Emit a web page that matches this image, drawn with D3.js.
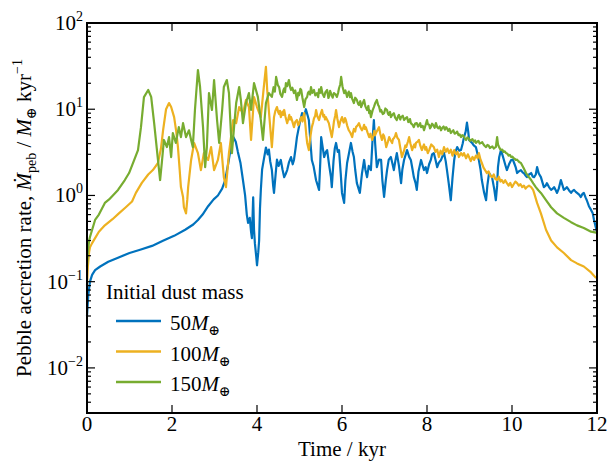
<!DOCTYPE html>
<html>
<head>
<meta charset="utf-8">
<script src="https://cdn.jsdelivr.net/npm/d3@7"></script>
<style>
  body { margin: 0; background: #fff; }
  svg { font-family: "Liberation Serif", "DejaVu Serif", serif; }
</style>
</head>
<body>
<svg id="chart" width="609" height="461"></svg>
<script>

// time in kyr, rate in M_earth / kyr
var blue50 = [[0,0.04],[0.03,0.07],[0.07,0.1],[0.12,0.12],[0.19,0.136],[0.31,0.15],[0.5,0.17],[0.73,0.19],[1.0,0.215],[1.25,0.235],[1.53,0.26],[1.8,0.3],[2.05,0.34],[2.31,0.4],[2.5,0.46],[2.61,0.52],[2.72,0.6],[2.85,0.75],[2.98,0.9],[3.08,1.0],[3.18,1.2],[3.25,1.5],[3.32,2.3],[3.38,3.5],[3.44,4.8],[3.5,4.2],[3.55,3.2],[3.61,2.4],[3.67,1.5],[3.72,1.0],[3.76,0.6],[3.79,0.48],[3.83,0.55],[3.86,0.38],[3.88,0.32],[3.91,0.95],[3.93,0.4],[3.95,0.28],[3.98,0.2],[4.0,0.155],[4.03,0.22],[4.05,0.3],[4.07,0.7],[4.09,1.15],[4.12,2.0],[4.16,2.6],[4.21,3.6],[4.25,3.0],[4.28,3.4],[4.31,2.5],[4.35,1.97],[4.38,1.3],[4.4,1.07],[4.44,1.8],[4.47,2.6],[4.51,2.2],[4.56,2.58],[4.6,2.0],[4.64,1.63],[4.68,1.8],[4.71,1.97],[4.75,2.4],[4.8,2.79],[4.84,2.3],[4.87,2.58],[4.91,3.6],[4.94,4.75],[4.98,6.0],[5.02,7.5],[5.06,9.0],[5.1,8.0],[5.15,10],[5.19,8.5],[5.22,7.5],[5.26,4.0],[5.29,2.58],[5.33,2.2],[5.36,1.82],[5.39,1.5],[5.43,1.3],[5.46,1.16],[5.49,2.5],[5.51,4.75],[5.55,3.5],[5.58,2.79],[5.62,3.2],[5.65,3.36],[5.7,2.2],[5.74,1.63],[5.76,1.25],[5.8,2.5],[5.83,3.5],[5.86,4.06],[5.9,3.2],[5.93,3.36],[5.97,1.8],[6.0,1.07],[6.05,0.82],[6.08,1.5],[6.12,2.38],[6.16,3.0],[6.21,4.06],[6.25,3.2],[6.28,2.79],[6.31,2.0],[6.35,1.39],[6.42,1.07],[6.47,1.8],[6.52,2.58],[6.55,2.0],[6.59,1.63],[6.63,2.2],[6.68,1.97],[6.72,4.5],[6.75,7.5],[6.78,4.0],[6.82,2.13],[6.87,2.6],[6.92,2.58],[6.95,1.5],[6.99,0.96],[7.03,1.5],[7.06,1.97],[7.1,2.6],[7.15,2.79],[7.19,2.3],[7.22,1.97],[7.26,2.6],[7.29,3.1],[7.34,2.2],[7.39,1.39],[7.42,2.0],[7.46,2.58],[7.5,3.0],[7.53,3.36],[7.58,2.8],[7.62,2.58],[7.66,2.0],[7.69,1.63],[7.73,1.4],[7.76,1.16],[7.8,1.9],[7.86,2.58],[7.9,2.2],[7.93,1.97],[7.97,2.13],[8.0,1.82],[8.05,2.3],[8.09,2.58],[8.12,3.0],[8.16,3.1],[8.2,2.6],[8.24,2.13],[8.28,2.4],[8.33,2.58],[8.37,2.9],[8.4,3.1],[8.44,2.5],[8.47,1.97],[8.51,1.4],[8.56,0.88],[8.6,1.6],[8.64,2.58],[8.67,3.2],[8.71,3.64],[8.76,3.3],[8.8,3.36],[8.84,4.0],[8.87,4.75],[8.91,5.5],[8.94,7.0],[8.97,5.5],[8.99,4.4],[9.03,4.2],[9.06,4.06],[9.1,3.8],[9.15,3.64],[9.19,3.0],[9.22,2.58],[9.26,2.0],[9.29,1.51],[9.34,1.1],[9.39,0.88],[9.42,1.3],[9.46,1.82],[9.5,1.7],[9.53,1.63],[9.58,1.2],[9.62,0.88],[9.65,1.3],[9.67,2.13],[9.7,2.8],[9.74,3.36],[9.78,2.9],[9.81,2.58],[9.85,2.2],[9.88,1.97],[9.93,2.3],[9.98,2.58],[10.02,2.6],[10.05,2.38],[10.09,2.1],[10.12,1.82],[10.16,1.9],[10.21,1.97],[10.25,1.85],[10.28,1.82],[10.32,1.7],[10.35,1.63],[10.4,1.75],[10.45,1.82],[10.49,1.65],[10.52,1.63],[10.56,1.75],[10.59,2.13],[10.63,1.8],[10.68,1.63],[10.72,1.4],[10.75,1.25],[10.79,1.3],[10.82,1.39],[10.87,1.25],[10.92,1.16],[10.96,1.2],[10.99,1.25],[11.03,1.15],[11.06,1.07],[11.1,1.2],[11.15,1.51],[11.19,1.3],[11.22,1.16],[11.26,1.2],[11.29,1.25],[11.34,1.15],[11.39,1.07],[11.42,1.12],[11.46,1.16],[11.5,1.1],[11.53,1.07],[11.58,1.02],[11.62,0.96],[11.66,1.05],[11.69,1.07],[11.73,0.95],[11.76,0.88],[11.81,0.75],[11.86,0.68],[11.9,0.62],[11.93,0.52],[11.96,0.45],[12.0,0.38]];

var orange100 = [[0,0.09],[0.02,0.15],[0.05,0.22],[0.07,0.25],[0.12,0.28],[0.19,0.32],[0.28,0.38],[0.42,0.45],[0.6,0.53],[0.75,0.62],[0.9,0.72],[1.06,0.85],[1.15,1.07],[1.29,1.4],[1.44,1.75],[1.55,1.97],[1.67,2.38],[1.74,3.5],[1.79,5.7],[1.86,10],[1.93,11.8],[1.98,10.6],[2.05,8.1],[2.1,5.5],[2.14,3.64],[2.18,2.0],[2.21,1.25],[2.26,0.96],[2.28,0.73],[2.33,0.62],[2.36,0.9],[2.38,1.25],[2.45,2.58],[2.52,4.06],[2.61,3.1],[2.68,1.97],[2.75,3.1],[2.85,2.58],[2.92,3.64],[2.99,1.97],[3.08,2.58],[3.15,4.06],[3.22,1.63],[3.27,1.25],[3.34,3.1],[3.44,7.5],[3.51,6.9],[3.58,10.6],[3.67,9.0],[3.74,12.8],[3.81,10.6],[3.86,4.4],[3.93,13.8],[4.0,10.6],[4.09,8.1],[4.16,18],[4.21,31],[4.24,16.7],[4.33,4.75],[4.35,3.64],[4.4,8.1],[4.43,9.5],[4.47,10.6],[4.5,9.2],[4.52,8.8],[4.54,9.6],[4.56,8.1],[4.58,8.7],[4.6,9.4],[4.62,8.6],[4.64,9.8],[4.67,8.2],[4.71,6.9],[4.74,7.8],[4.76,8.6],[4.78,7.6],[4.8,8.1],[4.84,7.0],[4.87,6.2],[4.9,7.1],[4.94,7.5],[4.97,6.5],[4.99,6.8],[5.02,7.6],[5.04,8.1],[5.07,7.2],[5.09,8.2],[5.11,9.0],[5.14,6.5],[5.16,5.0],[5.18,4.06],[5.22,3.36],[5.25,4.6],[5.29,6.2],[5.32,7.0],[5.34,7.8],[5.37,8.4],[5.39,9.8],[5.42,8.3],[5.46,7.5],[5.49,8.6],[5.53,9.8],[5.56,8.2],[5.58,8.6],[5.6,7.6],[5.62,8.1],[5.66,7.4],[5.69,6.9],[5.72,5.9],[5.76,4.75],[5.79,6.0],[5.81,7.2],[5.84,8.4],[5.86,9.8],[5.89,7.8],[5.93,6.2],[5.96,7.2],[6.0,8.1],[6.02,7.4],[6.04,7.0],[6.07,7.9],[6.09,7.5],[6.12,6.5],[6.16,5.7],[6.2,5.3],[6.24,4.75],[6.26,5.4],[6.28,5.9],[6.31,5.5],[6.33,6.2],[6.37,6.5],[6.4,6.9],[6.43,6.2],[6.47,5.7],[6.5,6.1],[6.52,6.6],[6.54,5.9],[6.56,6.2],[6.6,5.4],[6.64,4.75],[6.67,5.2],[6.71,4.4],[6.74,5.0],[6.76,5.6],[6.78,5.0],[6.8,5.3],[6.84,5.8],[6.87,6.2],[6.9,5.2],[6.94,4.4],[6.97,5.1],[6.99,4.9],[7.02,4.2],[7.04,3.64],[7.08,4.2],[7.11,4.75],[7.14,4.4],[7.18,4.06],[7.2,4.5],[7.22,4.6],[7.25,4.9],[7.27,5.3],[7.3,4.7],[7.34,4.4],[7.37,3.6],[7.41,2.79],[7.44,3.1],[7.46,3.3],[7.49,3.8],[7.51,3.64],[7.55,4.2],[7.58,4.75],[7.61,4.0],[7.65,3.36],[7.68,3.7],[7.7,3.9],[7.72,3.6],[7.74,4.06],[7.78,4.2],[7.81,4.4],[7.84,3.8],[7.88,3.36],[7.91,3.7],[7.93,3.9],[7.96,3.4],[7.98,3.64],[8.02,3.1],[8.05,3.36],[8.1,3.9],[8.16,3.64],[8.2,3.2],[8.24,3.4],[8.28,2.79],[8.32,3.3],[8.36,3.0],[8.4,3.64],[8.44,3.2],[8.48,3.5],[8.52,3.1],[8.56,3.4],[8.6,2.9],[8.64,3.36],[8.68,3.0],[8.72,3.2],[8.75,2.79],[8.8,3.1],[8.84,2.9],[8.87,3.1],[8.92,2.7],[8.96,3.0],[8.99,2.79],[9.03,2.5],[9.07,2.8],[9.11,2.58],[9.15,2.9],[9.19,2.7],[9.22,3.1],[9.26,2.6],[9.29,2.38],[9.33,2.1],[9.37,1.95],[9.41,1.82],[9.45,1.9],[9.49,1.7],[9.53,1.63],[9.57,1.75],[9.61,1.55],[9.65,1.51],[9.69,1.65],[9.73,1.45],[9.76,1.51],[9.8,1.4],[9.84,1.5],[9.88,1.39],[9.92,1.3],[9.96,1.4],[10.0,1.25],[10.04,1.35],[10.08,1.45],[10.12,1.39],[10.16,1.3],[10.2,1.35],[10.24,1.25],[10.28,1.3],[10.32,1.2],[10.35,1.25],[10.4,1.3],[10.45,1.25],[10.5,1.15],[10.52,1.07],[10.59,0.82],[10.68,0.62],[10.8,0.4],[10.92,0.3],[11.06,0.25],[11.22,0.215],[11.39,0.178],[11.53,0.163],[11.69,0.15],[11.86,0.128],[11.98,0.11]];

var green150 = [[0,0.15],[0.02,0.22],[0.05,0.3],[0.07,0.33],[0.19,0.52],[0.28,0.6],[0.42,0.82],[0.52,0.9],[0.73,1.16],[0.89,1.51],[0.99,1.82],[1.1,2.5],[1.2,3.36],[1.27,6.2],[1.34,13.8],[1.44,16.7],[1.51,13.9],[1.58,6.9],[1.67,2.58],[1.72,1.51],[1.76,2.38],[1.81,4.4],[1.88,3.64],[1.93,4.75],[1.98,2.79],[2.02,5.3],[2.09,4.06],[2.16,6.2],[2.21,4.75],[2.26,6.9],[2.33,4.75],[2.4,5.7],[2.45,4.4],[2.49,3.64],[2.54,9.8],[2.61,28.5],[2.66,18.1],[2.73,6.2],[2.78,2.13],[2.82,3.64],[2.87,15.4],[2.94,9.8],[2.99,21.8],[3.06,7.5],[3.11,4.06],[3.18,9.8],[3.22,18.1],[3.29,21.8],[3.34,15.4],[3.41,3.1],[3.46,6.2],[3.51,11.8],[3.58,18.1],[3.62,12.8],[3.67,6.9],[3.74,11.8],[3.81,15.4],[3.86,9.8],[3.93,20.1],[4.02,13.9],[4.09,7.5],[4.14,4.4],[4.21,11.8],[4.28,15.4],[4.35,13.9],[4.39,18],[4.42,16],[4.45,23.7],[4.49,19],[4.52,18.1],[4.55,15],[4.59,13.9],[4.62,16.5],[4.64,17.5],[4.66,15.8],[4.68,20.1],[4.71,18.5],[4.75,21.8],[4.78,18],[4.8,16.7],[4.83,17.8],[4.87,15.4],[4.9,16.5],[4.94,12.8],[4.97,15.5],[4.99,14.5],[5.02,17.2],[5.04,16.7],[5.07,13.5],[5.11,10.6],[5.14,13],[5.18,13.9],[5.2,15.5],[5.22,16.0],[5.25,14.8],[5.27,18.1],[5.3,15.5],[5.34,16.7],[5.37,14.5],[5.41,15.4],[5.44,13.8],[5.46,17.0],[5.49,15.5],[5.51,18.1],[5.54,15.2],[5.58,13.9],[5.61,15.8],[5.65,16.7],[5.68,13.5],[5.7,14.2],[5.72,16.3],[5.74,15.4],[5.78,13.6],[5.81,15.4],[5.85,14.8],[5.88,13.9],[5.91,15.6],[5.93,17.5],[5.96,19.5],[5.98,23.7],[6.01,18.5],[6.05,15.4],[6.08,16.5],[6.12,13.9],[6.14,15.2],[6.16,16.0],[6.19,13.8],[6.21,15.4],[6.24,13.2],[6.28,11.8],[6.31,13.6],[6.35,12.8],[6.38,11.5],[6.4,11.2],[6.43,12.4],[6.45,10.6],[6.49,11.8],[6.52,12.8],[6.55,10.8],[6.59,9.8],[6.62,10.9],[6.64,9.0],[6.66,9.6],[6.68,8.1],[6.72,9.7],[6.75,10.6],[6.78,11.7],[6.82,12.8],[6.85,11.2],[6.87,10.8],[6.9,9.4],[6.92,9.8],[6.96,8.8],[6.99,9.0],[7.02,10.2],[7.06,9.8],[7.08,8.9],[7.1,8.6],[7.13,9.3],[7.15,8.1],[7.19,8.7],[7.22,9.0],[7.25,8.0],[7.29,7.5],[7.32,8.3],[7.34,8.6],[7.37,7.6],[7.39,8.1],[7.43,8.4],[7.46,7.5],[7.5,7.9],[7.53,8.1],[7.56,7.1],[7.58,7.2],[7.6,7.7],[7.62,6.9],[7.66,6.6],[7.69,6.2],[7.72,6.8],[7.76,6.9],[7.79,6.3],[7.81,6.5],[7.84,6.9],[7.86,6.2],[7.9,6.4],[7.93,5.7],[7.96,6.4],[8.0,7.5],[8.02,6.7],[8.05,6.6],[8.07,6.0],[8.09,6.2],[8.12,6.8],[8.15,6.5],[8.18,6.1],[8.21,6.9],[8.24,6.2],[8.27,6.0],[8.3,6.3],[8.33,5.7],[8.36,6.1],[8.39,6.3],[8.42,5.8],[8.45,6.2],[8.48,5.9],[8.5,5.6],[8.53,5.9],[8.56,5.3],[8.59,5.5],[8.62,5.7],[8.65,5.2],[8.68,5.3],[8.71,5.5],[8.74,5.0],[8.77,5.1],[8.8,4.75],[8.83,5.0],[8.86,4.9],[8.89,4.6],[8.92,4.4],[8.95,4.7],[8.98,4.6],[9.01,4.3],[9.04,4.4],[9.07,4.5],[9.1,4.2],[9.13,4.35],[9.15,4.06],[9.18,4.2],[9.21,4.3],[9.24,4.0],[9.27,4.06],[9.3,4.15],[9.33,3.9],[9.36,3.75],[9.39,3.64],[9.42,3.85],[9.45,3.8],[9.48,3.55],[9.51,3.64],[9.54,3.7],[9.57,3.5],[9.6,3.6],[9.62,3.64],[9.65,4.75],[9.67,3.9],[9.69,3.7],[9.72,3.45],[9.74,3.36],[9.77,3.4],[9.8,3.2],[9.83,3.25],[9.86,3.1],[9.89,3.05],[9.92,2.9],[9.95,2.95],[9.98,2.79],[10.01,2.82],[10.04,2.7],[10.07,2.65],[10.09,2.58],[10.12,2.6],[10.15,2.5],[10.18,2.42],[10.21,2.38],[10.27,2.1],[10.33,1.82],[10.39,1.65],[10.45,1.51],[10.5,1.38],[10.56,1.25],[10.62,1.15],[10.68,1.07],[10.8,0.88],[10.92,0.73],[11.06,0.62],[11.22,0.55],[11.39,0.49],[11.53,0.45],[11.69,0.42],[11.86,0.38],[11.98,0.37]];

var seriesNames = ["50", "100", "150"];
var seriesColors = ["#0072bd", "#edb120", "#77ac30"];
var xTicks = [0, 2, 4, 6, 8, 10, 12];
var yDecades = [-2, -1, 0, 1, 2];

(function(){
var svg = d3.select("#chart");
var pl = 87, pr = 597, pt = 23, pb = 413;

var x = d3.scaleLinear().domain([0, 12]).range([pl, pr]);
var y = d3.scaleLog().domain([0.003, 100]).range([pb, pt]);

var series = [blue50, orange100, green150];

var line = d3.line()
  .x(function(d){ return x(d[0]); })
  .y(function(d){ return y(d[1]); });

var plot = svg.append("g");
series.forEach(function(s, i){
  plot.append("path")
    .attr("d", line(s))
    .attr("fill", "none")
    .attr("stroke", seriesColors[i])
    .attr("stroke-width", 2.2)
    .attr("stroke-linejoin", "round");
});

// minor ticks on the log axis
var minor = [];
for (var k = -3; k <= 1; k++) {
  for (var m = 2; m <= 9; m++) {
    var v = m * Math.pow(10, k);
    if (v >= 0.003 && v <= 100) minor.push(v);
  }
}

var ticks = svg.append("g").attr("stroke", "#000").attr("stroke-width", 1.2);
minor.forEach(function(v){
  ticks.append("line").attr("x1", pl).attr("x2", pl + 4).attr("y1", y(v)).attr("y2", y(v));
  ticks.append("line").attr("x1", pr).attr("x2", pr - 4).attr("y1", y(v)).attr("y2", y(v));
});
yDecades.forEach(function(k){
  var yy = y(Math.pow(10, k));
  ticks.append("line").attr("x1", pl).attr("x2", pl + 8).attr("y1", yy).attr("y2", yy);
  ticks.append("line").attr("x1", pr).attr("x2", pr - 8).attr("y1", yy).attr("y2", yy);
});
xTicks.forEach(function(t){
  ticks.append("line").attr("x1", x(t)).attr("x2", x(t)).attr("y1", pb).attr("y2", pb - 8);
  ticks.append("line").attr("x1", x(t)).attr("x2", x(t)).attr("y1", pt).attr("y2", pt + 8);
});

svg.append("rect")
  .attr("x", pl).attr("y", pt)
  .attr("width", pr - pl).attr("height", pb - pt)
  .attr("fill", "none").attr("stroke", "#000").attr("stroke-width", 2);

// tick labels
xTicks.forEach(function(t){
  svg.append("text")
    .attr("x", x(t)).attr("y", pb + 18)
    .attr("text-anchor", "middle")
    .attr("font-size", 21)
    .text(t);
});

yDecades.forEach(function(k){
  var yy = y(Math.pow(10, k));
  var txt = svg.append("text")
    .attr("x", 83).attr("y", yy + 7)
    .attr("text-anchor", "end")
    .attr("font-size", 21);
  txt.append("tspan").text("10");
  txt.append("tspan").attr("dy", -9).attr("font-size", 14)
    .text(k < 0 ? "\u2212" + (-k) : String(k));
});

// axis titles
svg.append("text")
  .attr("x", (pl + pr) / 2).attr("y", 456)
  .attr("text-anchor", "middle")
  .attr("font-size", 21)
  .text("Time / kyr");

var yl = svg.append("text")
  .attr("transform", "translate(31," + ((pt + pb) / 2) + ") rotate(-90)")
  .attr("text-anchor", "middle")
  .attr("font-size", 21);
yl.append("tspan").text("Pebble accretion rate, ");
yl.append("tspan").attr("font-style", "italic").text("\u1E40");
yl.append("tspan").attr("font-size", 14).attr("dy", 5).text("peb");
yl.append("tspan").attr("dy", -5).text(" / ");
yl.append("tspan").attr("font-style", "italic").text("M");
yl.append("tspan").attr("font-size", 14).attr("dy", 5).text("\u2295");
yl.append("tspan").attr("dy", -5).text(" kyr");
yl.append("tspan").attr("font-size", 14).attr("dy", -9).text("\u22121");

// legend
var legend = svg.append("g");
legend.append("text")
  .attr("x", 106).attr("y", 299)
  .attr("font-size", 21)
  .text("Initial dust mass");
seriesNames.forEach(function(name, i){
  var ly = 321 + i * 30.5;
  legend.append("line")
    .attr("x1", 116).attr("x2", 161).attr("y1", ly).attr("y2", ly)
    .attr("stroke", seriesColors[i]).attr("stroke-width", 2.5);
  var t = legend.append("text")
    .attr("x", 170).attr("y", ly + 9)
    .attr("font-size", 21);
  t.append("tspan").text(name);
  t.append("tspan").attr("font-style", "italic").text("M");
  t.append("tspan").attr("font-size", 14).attr("dy", 5).text("\u2295");
});
})();

</script>
</body>
</html>
